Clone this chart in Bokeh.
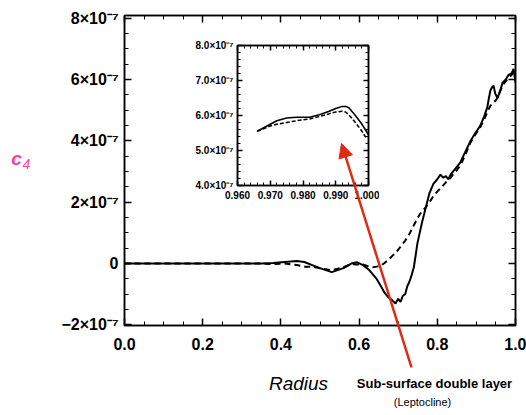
import numpy as np
from bokeh.plotting import figure
from bokeh.models import (Range1d, FixedTicker, LinearAxis, CustomJSTickFormatter,
                          Label, Arrow, NormalHead)
from bokeh.layouts import column
from bokeh.embed import file_html
from bokeh.resources import INLINE

# ---------------- data (values in units of 1e-7) ----------------
SCALE = 1e-7
radius = [0.00, 0.05, 0.10, 0.15, 0.20, 0.25, 0.30, 0.35, 0.38, 0.41, 0.44, 0.46, 0.48,
          0.50, 0.53, 0.56, 0.58, 0.595, 0.61, 0.625, 0.635, 0.645, 0.655, 0.665, 0.675,
          0.685, 0.693, 0.700, 0.706, 0.712, 0.718, 0.723, 0.730, 0.735, 0.740, 0.745,
          0.749, 0.755, 0.762, 0.768, 0.774, 0.780, 0.790, 0.800, 0.808, 0.815, 0.822,
          0.828, 0.834, 0.840, 0.850, 0.859, 0.870, 0.885, 0.897, 0.910, 0.920, 0.928,
          0.932, 0.936, 0.940, 0.944, 0.948, 0.954, 0.960, 0.967, 0.975, 0.982, 0.990,
          0.995, 1.000]
c4_solid = [0.0, 0.0, 0.0, 0.0, 0.0, 0.0, 0.0, 0.0, 0.02, 0.05, 0.08, 0.05, -0.05,
            -0.15, -0.28, -0.15, 0.0, 0.04, -0.05, -0.2, -0.35, -0.5, -0.72, -0.95, -1.1,
            -1.2, -1.3, -1.15, -1.25, -1.05, -1.0, -0.75, -0.55, -0.35, -0.12, 0.3,
            0.65, 1.0, 1.4, 1.7, 2.0, 2.3, 2.6, 2.75, 2.9, 2.8, 2.85,
            2.75, 2.9, 3.0, 3.15, 3.3, 3.6, 4.0, 4.25, 4.5, 4.8, 5.1,
            5.4, 5.65, 5.75, 5.8, 5.55, 5.4, 5.6, 5.9, 6.0, 6.15, 6.2,
            6.35, 5.9]
c4_dashed = [0.0, 0.0, 0.0, 0.0, 0.0, 0.0, 0.0, 0.0, -0.02, 0.0, -0.05, -0.1, -0.1,
             -0.15, -0.22, -0.12, -0.02, -0.03, -0.03, -0.1, -0.12, -0.1, -0.07, 0.02, 0.12,
             0.25, 0.35, 0.45, 0.55, 0.65, 0.75, 0.85, 1.0, 1.12, 1.25, 1.37,
             1.47, 1.6, 1.72, 1.8, 1.9, 2.0, 2.2, 2.35, 2.45, 2.55, 2.65,
             2.72, 2.8, 2.9, 3.05, 3.2, 3.5, 3.95, 4.2, 4.45, 4.7, 4.95,
             5.05, 5.15, 5.2, 5.25, 5.3, 5.4, 5.6, 5.8, 5.95, 6.05, 6.15,
             6.25, 6.3]

inset_radius = [0.966, 0.968, 0.970, 0.972, 0.975, 0.978, 0.982, 0.985, 0.988, 0.990,
                0.992, 0.993, 0.994, 0.996, 0.998, 0.999, 1.000]
inset_solid = [5.55, 5.65, 5.75, 5.85, 5.93, 5.95, 5.95, 6.02, 6.12, 6.2,
               6.26, 6.26, 6.22, 6.0, 5.75, 5.6, 5.45]
inset_dashed = [5.55, 5.62, 5.7, 5.75, 5.8, 5.85, 5.9, 5.97, 6.05, 6.1,
                6.12, 6.1, 6.02, 5.8, 5.55, 5.4, 5.35]

x_ticks = [0.0, 0.2, 0.4, 0.6, 0.8, 1.0]
x_tick_labels = ["0.0", "0.2", "0.4", "0.6", "0.8", "1.0"]
y_ticks = [-2e-7, 0.0, 2e-7, 4e-7, 6e-7, 8e-7]
y_tick_labels = ["\u22122\u00d710\u207b\u2077", "0", "2\u00d710\u207b\u2077",
                 "4\u00d710\u207b\u2077", "6\u00d710\u207b\u2077", "8\u00d710\u207b\u2077"]
inset_x_ticks = [0.960, 0.970, 0.980, 0.990, 1.000]
inset_x_tick_labels = ["0.960", "0.970", "0.980", "0.990", "1.000"]
inset_y_ticks = [4e-7, 5e-7, 6e-7, 7e-7, 8e-7]
inset_y_tick_labels = ["4.0\u00d710\u207b\u2077", "5.0\u00d710\u207b\u2077",
                       "6.0\u00d710\u207b\u2077", "7.0\u00d710\u207b\u2077",
                       "8.0\u00d710\u207b\u2077"]

FONT = "Liberation Sans"
PINK = "#ff3fa0"
RED = "#de2a12"


def label_fmt(tick_values, tick_labels):
    return CustomJSTickFormatter(args=dict(tv=tick_values, tl=tick_labels), code="""
        let best = 0, d = Infinity;
        for (let i = 0; i < tv.length; i++) {
            const e = Math.abs(tv[i] - tick);
            if (e < d) { d = e; best = i; }
        }
        return tl[best];
    """)


def blank_fmt():
    return CustomJSTickFormatter(code="return '';")


def minor_list(ticks, n):
    step = (ticks[1] - ticks[0]) / n
    return list(np.arange(ticks[0], ticks[-1] + step / 2, step))


def style_axis(ax, tin, tmin, size, lw=1.5):
    ax.major_tick_in = tin
    ax.major_tick_out = 0
    ax.minor_tick_in = tmin
    ax.minor_tick_out = 0
    ax.axis_line_color = "black"
    ax.axis_line_width = lw
    ax.major_tick_line_color = "black"
    ax.major_tick_line_width = lw
    ax.minor_tick_line_color = "black"
    ax.minor_tick_line_width = 1
    ax.major_label_text_font = FONT
    ax.major_label_text_font_style = "bold"
    ax.major_label_text_font_size = size
    ax.major_label_text_color = "black"


def abs_style(left, top, w, h):
    return {"position": "absolute", "left": f"{left}px", "top": f"{top}px",
            "width": f"{w}px", "height": f"{h}px"}


# Column layouts align left/right borders of their plots, so every figure
# shares the same left/right borders and is shifted into place instead.
L, R = 124, 11

# ---------------- main figure ----------------
X0, X1 = 0.0, 1.0
Y0, Y1 = -2.02e-7, 8.09e-7
T, B = 15, 90
W, H = 526, 415
FW = W - L - R

p = figure(width=W, height=H, x_range=Range1d(X0, X1), y_range=Range1d(Y0, Y1),
           output_backend="svg", toolbar_location=None,
           x_axis_type=None, y_axis_type=None,
           min_border_left=L, min_border_right=R, min_border_top=T, min_border_bottom=B,
           background_fill_color="white", border_fill_color="white")
p.outline_line_color = "black"
p.outline_line_width = 1.5

xt = FixedTicker(ticks=x_ticks, minor_ticks=minor_list(x_ticks, 4))
yt = FixedTicker(ticks=y_ticks, minor_ticks=minor_list(y_ticks, 4))

ax_b = LinearAxis(ticker=xt, formatter=label_fmt(x_ticks, x_tick_labels))
ax_b.major_label_standoff = 12
ax_l = LinearAxis(ticker=yt, formatter=label_fmt(y_ticks, y_tick_labels))
ax_l.major_label_standoff = 6
ax_t = LinearAxis(ticker=xt, formatter=blank_fmt())
ax_r = LinearAxis(ticker=yt, formatter=blank_fmt())
for a in (ax_b, ax_l, ax_t, ax_r):
    style_axis(a, 7, 4, "16px")
p.add_layout(ax_b, "below")
p.add_layout(ax_l, "left")
p.add_layout(ax_t, "above")
p.add_layout(ax_r, "right")

p.line(radius, [v * SCALE for v in c4_dashed], line_color="black", line_width=2,
       line_dash="6 4")
p.line(radius, [v * SCALE for v in c4_solid], line_color="black", line_width=2)

# ---------------- inset figure ----------------
IT, IB = 10, 22
IFW, IFH = 131, 140
IFX, IFY = 237, 45          # frame position on the page
IW, IH = L + IFW + R, IT + IFH + IB
inset = figure(width=IW, height=IH,
               x_range=Range1d(0.960, 1.000), y_range=Range1d(4e-7, 8e-7),
               output_backend="svg", toolbar_location=None,
               x_axis_type=None, y_axis_type=None,
               min_border_left=L, min_border_right=R, min_border_top=IT,
               min_border_bottom=IB,
               background_fill_alpha=0, border_fill_alpha=0,
               styles=abs_style(IFX - L, IFY - IT, IW, IH))
inset.outline_line_color = "black"
inset.outline_line_width = 1.5

ixt = FixedTicker(ticks=inset_x_ticks, minor_ticks=minor_list(inset_x_ticks, 5))
iyt = FixedTicker(ticks=inset_y_ticks, minor_ticks=minor_list(inset_y_ticks, 5))
iax_b = LinearAxis(ticker=ixt, formatter=label_fmt(inset_x_ticks, inset_x_tick_labels))
iax_b.major_label_standoff = 5
iax_l = LinearAxis(ticker=iyt, formatter=label_fmt(inset_y_ticks, inset_y_tick_labels))
iax_l.major_label_standoff = 4
iax_t = LinearAxis(ticker=ixt, formatter=blank_fmt())
iax_r = LinearAxis(ticker=iyt, formatter=blank_fmt())
for a in (iax_b, iax_l, iax_t, iax_r):
    style_axis(a, 5, 3, "10px")
inset.add_layout(iax_b, "below")
inset.add_layout(iax_l, "left")
inset.add_layout(iax_t, "above")
inset.add_layout(iax_r, "right")

inset.line(inset_radius, [v * SCALE for v in inset_dashed], line_color="black",
           line_width=1.5, line_dash="4 2")
inset.line(inset_radius, [v * SCALE for v in inset_solid], line_color="black",
           line_width=1.5)


# ---------------- annotation overlays (page pixel coordinates) ----------------
def overlay(page_left):
    # frame covers page x in [page_left + L, page_left + L + FW], y in [0, H]
    fx0 = page_left + L
    o = figure(width=W, height=H, x_range=Range1d(fx0, fx0 + FW), y_range=Range1d(H, 0),
               output_backend="svg", toolbar_location=None,
               x_axis_type=None, y_axis_type=None,
               min_border_left=L, min_border_right=R, min_border_top=0,
               min_border_bottom=0,
               background_fill_alpha=0, border_fill_alpha=0,
               styles=abs_style(page_left, 0, W, H))
    o.outline_line_color = None
    return o


ov_left = overlay(-L)      # frame spans page x 0..391
ov_right = overlay(0)      # frame spans page x 124..515

ov_left.add_layout(Label(x=16, y=158, text="c", text_font=FONT,
                         text_font_style="bold italic", text_font_size="19px",
                         text_color=PINK, text_align="center", text_baseline="middle"))
ov_left.add_layout(Label(x=26, y=163, text="4", text_font=FONT,
                         text_font_style="italic", text_font_size="14px",
                         text_color=PINK, text_align="center", text_baseline="middle"))

ov_right.add_layout(Label(x=298, y=383, text="Radius", text_font=FONT,
                          text_font_style="italic", text_font_size="19px",
                          text_color="black", text_align="center",
                          text_baseline="middle"))
ov_right.add_layout(Label(x=434, y=383, text="Sub-surface double layer", text_font=FONT,
                          text_font_style="bold", text_font_size="13px",
                          text_color="black", text_align="center",
                          text_baseline="middle"))
ov_right.add_layout(Label(x=422, y=401, text="(Leptocline)", text_font=FONT,
                          text_font_size="11px", text_color="black",
                          text_align="center", text_baseline="middle"))
ov_right.add_layout(Arrow(x_start=411, y_start=367, x_end=341, y_end=143,
                          line_color=RED, line_width=2.5,
                          end=NormalHead(size=14, fill_color=RED, line_color=RED)))

layout = column(p, inset, ov_left, ov_right, styles={"overflow": "hidden"})
open("out.html", "w").write(file_html(layout, INLINE))
